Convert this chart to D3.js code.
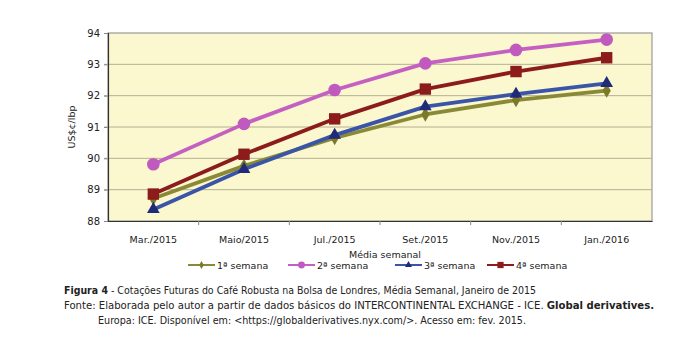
<!DOCTYPE html>
<html>
<head>
<meta charset="utf-8">
<script src="https://cdn.jsdelivr.net/npm/d3@7/dist/d3.min.js"></script>
<style>
  body { margin: 0; background: #fff; }
  svg { display: block; }
  svg text { font-family: "DejaVu Sans", sans-serif; fill: #222; }
</style>
</head>
<body>
<svg></svg>
<script>
const svg = d3.select('svg')
    .attr('width', 687)
    .attr('height', 353)

// dados
const months = ['Mar./2015', 'Maio/2015', 'Jul./2015', 'Set./2015', 'Nov./2015', 'Jan./2016'];
const yTicks = [88, 89, 90, 91, 92, 93, 94];
const semana1 = [88.72, 89.76, 90.65, 91.40, 91.86, 92.16];
const semana2 = [89.81, 91.10, 92.18, 93.03, 93.46, 93.79];
const semana3 = [88.37, 89.65, 90.74, 91.65, 92.05, 92.39];
const semana4 = [88.86, 90.13, 91.26, 92.21, 92.77, 93.21];
const seriesNames = ['1ª semana', '2ª semana', '3ª semana', '4ª semana'];

const series = [
    {name: seriesNames[0], values: semana1, color: '#8a8a36', mark: '#7a7a2a', symbol: d3.symbolDiamond, size: 60},
    {name: seriesNames[1], values: semana2, color: '#c560c3', mark: '#c15abf', symbol: d3.symbolCircle, size: 125},
    {name: seriesNames[2], values: semana3, color: '#3a55a8', mark: '#1f2a78', symbol: d3.symbolTriangle, size: 70},
    {name: seriesNames[3], values: semana4, color: '#8c1c1c', mark: '#8c1c1c', symbol: d3.symbolSquare, size: 130}
];

const margin = {top: 33, right: 35, bottom: 132, left: 108};
const width = 687, height = 353;
const innerWidth = width - margin.left - margin.right;
const innerHeight = height - margin.top - margin.bottom;

const xScale = d3.scaleBand().domain(months).range([margin.left, margin.left + innerWidth]);
const yScale = d3.scaleLinear().domain([88, 94]).range([margin.top + innerHeight, margin.top]);
const xPos = (d, i) => xScale(months[i]) + xScale.bandwidth() / 2;
const bottom = margin.top + innerHeight;

// fundo
svg.append('rect')
    .attr('x', margin.left).attr('y', margin.top)
    .attr('width', innerWidth).attr('height', innerHeight)
    .attr('fill', '#fbf7cf')
    .attr('stroke', '#9a9a9a').attr('stroke-width', 1.2);

// grade
svg.selectAll('.grid').data(yTicks.slice(1, -1))
  .enter().append('line')
    .attr('x1', margin.left - 4).attr('x2', margin.left + innerWidth)
    .attr('y1', d => yScale(d)).attr('y2', d => yScale(d))
    .attr('stroke', '#b4b092').attr('stroke-width', 1);

// eixo y
const yAxis = svg.append('g')
    .attr('transform', 'translate(' + margin.left + ',0)')
    .call(d3.axisLeft(yScale).tickValues(yTicks).tickSize(4).tickFormat(d3.format('d')));
yAxis.attr('font-family', null);
yAxis.select('.domain').attr('stroke', '#333').attr('stroke-width', 1.2);
yAxis.selectAll('.tick line').attr('stroke', '#888');
yAxis.selectAll('text').attr('font-size', 10).attr('x', -8).attr('fill', '#222');

// eixo x
const xAxis = svg.append('g')
    .attr('transform', 'translate(0,' + bottom + ')')
    .call(d3.axisBottom(xScale).tickSize(0));
xAxis.attr('font-family', null);
xAxis.select('.domain').attr('stroke', '#333').attr('stroke-width', 1.2);
xAxis.selectAll('text').attr('font-size', 9.5).attr('dy', 0).attr('y', 21.5).attr('fill', '#222');
svg.append('g').selectAll('line').data(months.slice(1))
  .enter().append('line')
    .attr('x1', d => xScale(d)).attr('x2', d => xScale(d))
    .attr('y1', bottom).attr('y2', bottom + 4)
    .attr('stroke', '#888');

// títulos dos eixos
svg.append('text')
    .attr('x', margin.left + innerWidth / 2 + 5).attr('y', bottom + 36.5)
    .attr('text-anchor', 'middle').attr('font-size', 9.5)
    .text('Média semanal');
svg.append('text')
    .attr('transform', 'translate(75,127) rotate(-90)')
    .attr('text-anchor', 'middle').attr('font-size', 9.5)
    .text('US$¢/lbp');

// linhas
const line = d3.line().x(xPos).y(d => yScale(d));
series.forEach(s => {
    svg.append('path')
        .datum(s.values)
        .attr('d', line)
        .attr('fill', 'none')
        .attr('stroke', s.color)
        .attr('stroke-width', 3.8)
        .attr('stroke-linejoin', 'round');
    svg.selectAll(null).data(s.values)
      .enter().append('path')
        .attr('d', d3.symbol().type(s.symbol).size(s.size))
        .attr('transform', (d, i) => 'translate(' + xPos(d, i) + ',' + yScale(d) + ')')
        .attr('fill', s.mark);
});

// legenda
const legX = [188, 288, 395, 487];
series.forEach((s, i) => {
    svg.append('line').attr('x1', legX[i]).attr('x2', legX[i] + 27)
        .attr('y1', 265).attr('y2', 265)
        .attr('stroke', s.color).attr('stroke-width', 2);
    svg.append('path')
        .attr('d', d3.symbol().type(s.symbol).size(s.size * 0.3))
        .attr('transform', 'translate(' + (legX[i] + 13.5) + ',265)')
        .attr('fill', s.mark);
    svg.append('text').attr('x', legX[i] + 29).attr('y', 269).attr('font-size', 9.5)
        .text(s.name);
});

// legenda da figura
const cap1 = svg.append('text').attr('x', 64).attr('y', 294).attr('font-size', 10);
cap1.append('tspan').attr('font-weight', 'bold').text('Figura 4');
cap1.append('tspan').text(' - Cotações Futuras do Café Robusta na Bolsa de Londres, Média Semanal, Janeiro de 2015');
cap1.attr('textLength', 536 - 64).attr('lengthAdjust', 'spacingAndGlyphs');

const cap2 = svg.append('text').attr('x', 64).attr('y', 309).attr('font-size', 10);
cap2.append('tspan').text('Fonte: Elaborada pelo autor a partir de dados básicos do INTERCONTINENTAL EXCHANGE - ICE. ');
cap2.append('tspan').attr('font-weight', 'bold').text('Global derivatives.');
cap2.attr('textLength', 654 - 64).attr('lengthAdjust', 'spacingAndGlyphs');

svg.append('text').attr('x', 98).attr('y', 324).attr('font-size', 10)
    .attr('textLength', 526 - 98).attr('lengthAdjust', 'spacingAndGlyphs')
    .text('Europa: ICE. Disponível em: <https://globalderivatives.nyx.com/>. Acesso em: fev. 2015.');
</script>
</body>
</html>
